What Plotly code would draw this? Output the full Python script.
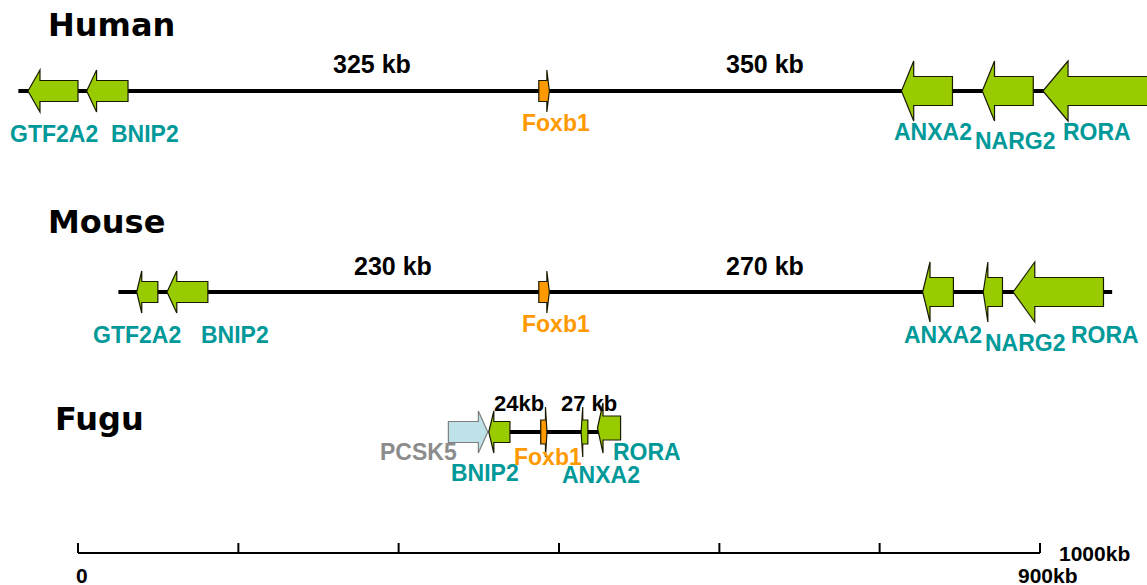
import plotly.graph_objects as go

# ---------------- DATA (positions in kb on the scale-bar axis) ----------------
human_genes = ["GTF2A2", "BNIP2", "Foxb1", "ANXA2", "NARG2", "RORA"]
human_start = [-52, 9, 479, 856, 940, 1003]
human_end = [0, 52, 490, 909, 993, 1112]
human_strand = [-1, -1, 1, -1, -1, -1]
human_span = [-62, 1107]

mouse_genes = ["GTF2A2", "BNIP2", "Foxb1", "ANXA2", "NARG2", "RORA"]
mouse_start = [61, 92.5, 479, 878, 941, 972]
mouse_end = [83, 135, 490, 910, 961, 1066]
mouse_strand = [-1, -1, 1, -1, -1, -1]
mouse_span = [42, 1075]

fugu_genes = ["PCSK5", "BNIP2", "Foxb1", "ANXA2", "RORA"]
fugu_start = [385, 427, 481, 523, 540]
fugu_end = [426, 449, 487.5, 530, 564]
fugu_strand = [1, -1, 1, -1, -1]
fugu_span = [440, 545]

distance_labels = {
    "Human": ["325 kb", "350 kb"],
    "Mouse": ["230 kb", "270 kb"],
    "Fugu": ["24kb", "27 kb"],
}

scale_ticks = [0, 166.7, 333.3, 500, 666.7, 833.3, 1000]
scale_labels = ["0", "900kb", "1000kb"]

# ---------------- STYLE / LAYOUT ----------------
W, H = 1147, 585
PX0, PX1000 = 78, 1040


def kb(px):
    return (px - PX0) * 1000.0 / (PX1000 - PX0)


GREEN = "#99CC00"
ORANGE = "#FF9900"
LIGHTBLUE = "#BFE2E8"
TEAL = "#009999"
GRAY = "#8C8C8C"
OUTLINE = "#1a1a00"

fill_of = {"Foxb1": ORANGE, "PCSK5": LIGHTBLUE}
label_color_of = {"Foxb1": ORANGE, "PCSK5": GRAY}
size_cls = {"s": (10.5, 21), "l": (14.5, 30), "f": (12, 25)}

species = [
    dict(name="Human", y=91, genes=human_genes, start=human_start, end=human_end,
         strand=human_strand, span=human_span, sizes=["s", "s", "s", "l", "l", "l"],
         title_xy=(46, 25),
         labels=[(54, 133), (145, 133), (556, 122), (933, 131), (1015, 140), (1097, 131)],
         dist_xy=[(372, 64), (765, 64)], dist_size=25),
    dict(name="Mouse", y=292, genes=mouse_genes, start=mouse_start, end=mouse_end,
         strand=mouse_strand, span=mouse_span, sizes=["s", "s", "s", "l", "l", "l"],
         title_xy=(46, 222),
         labels=[(137, 334), (235, 334), (556, 323), (943, 334), (1025, 342), (1105, 334)],
         dist_xy=[(393, 266), (765, 266)], dist_size=25),
    dict(name="Fugu", y=432, genes=fugu_genes, start=fugu_start, end=fugu_end,
         strand=fugu_strand, span=fugu_span, sizes=["s", "s", "f", "f", "f"],
         title_xy=(53, 419),
         labels=[(418, 451), (485, 472), (548, 456), (601, 474), (647, 451)],
         dist_xy=[(519, 403), (589, 403)], dist_size=22),
]

fig = go.Figure()
shapes = []
annotations = []


def arrow_path(s, e, strand, y, bh, hh):
    h = 0.24 * (e - s)
    if strand < 0:
        b = s + h
        pts = [(s, y), (b, y - hh), (b, y - bh), (e, y - bh), (e, y + bh), (b, y + bh), (b, y + hh)]
    else:
        b = e - h
        pts = [(e, y), (b, y - hh), (b, y - bh), (s, y - bh), (s, y + bh), (b, y + bh), (b, y + hh)]
    return "M " + " L ".join(f"{px:.3f},{py:.3f}" for px, py in pts) + " Z"


for sp in species:
    y = sp["y"]
    # chromosome line
    shapes.append(dict(type="line", xref="x", yref="y", x0=sp["span"][0], x1=sp["span"][1],
                       y0=y, y1=y, line=dict(color="black", width=4), layer="above"))
    for g, s, e, st, sz in zip(sp["genes"], sp["start"], sp["end"], sp["strand"], sp["sizes"]):
        bh, hh = size_cls[sz]
        yc = y - 4 if (sp["name"] == "Fugu" and g == "RORA") else y
        col = fill_of.get(g, GREEN)
        outline = "#7f7f7f" if g == "PCSK5" else OUTLINE
        shapes.append(dict(type="path", xref="x", yref="y", path=arrow_path(s, e, st, yc, bh, hh),
                           fillcolor=col, line=dict(color=outline, width=1.2), layer="above"))
    # gene labels
    for g, (lx, ly) in zip(sp["genes"], sp["labels"]):
        annotations.append(dict(x=kb(lx), y=ly, xref="x", yref="y", text=f"<b>{g}</b>",
                                showarrow=False, xanchor="center", yanchor="middle", height=17,
                                font=dict(family="Liberation Sans, Arial", size=23,
                                          color=label_color_of.get(g, TEAL))))
    # species title
    tx, ty = sp["title_xy"]
    annotations.append(dict(x=kb(tx), y=ty, xref="x", yref="y", text=f"<b>{sp['name']}</b>",
                            showarrow=False, xanchor="left", yanchor="middle",
                            font=dict(family="DejaVu Sans", size=32, color="black")))
    # distance labels
    for txt, (dx, dy) in zip(distance_labels[sp["name"]], sp["dist_xy"]):
        annotations.append(dict(x=kb(dx), y=dy, xref="x", yref="y", text=f"<b>{txt}</b>",
                                showarrow=False, xanchor="center", yanchor="middle",
                                font=dict(family="Liberation Sans, Arial", size=sp["dist_size"],
                                          color="black")))

# scale bar
SCALE_Y = 553
shapes.append(dict(type="line", xref="x", yref="y", x0=scale_ticks[0], x1=scale_ticks[-1],
                   y0=SCALE_Y, y1=SCALE_Y, line=dict(color="black", width=2)))
for t in scale_ticks:
    shapes.append(dict(type="line", xref="x", yref="y", x0=t, x1=t, y0=SCALE_Y, y1=SCALE_Y - 10,
                       line=dict(color="black", width=2)))
scale_label_pos = [(kb(82), 575, "center"), (kb(1048), 575, "center"), (kb(1057), 553, "left")]
for txt, (sx, sy, anc) in zip(scale_labels, scale_label_pos):
    annotations.append(dict(x=sx, y=sy, xref="x", yref="y", text=f"<b>{txt}</b>", showarrow=False,
                            xanchor=anc, yanchor="middle", height=18,
                            font=dict(family="Liberation Sans, Arial", size=21, color="black")))

fig.update_layout(
    width=W, height=H,
    margin=dict(l=0, r=0, t=0, b=0),
    paper_bgcolor="white", plot_bgcolor="white",
    xaxis=dict(range=[kb(0), kb(W)], visible=False, fixedrange=True),
    yaxis=dict(range=[H, 0], visible=False, fixedrange=True),
    shapes=shapes, annotations=annotations, showlegend=False,
)

fig.write_html("out.html")
